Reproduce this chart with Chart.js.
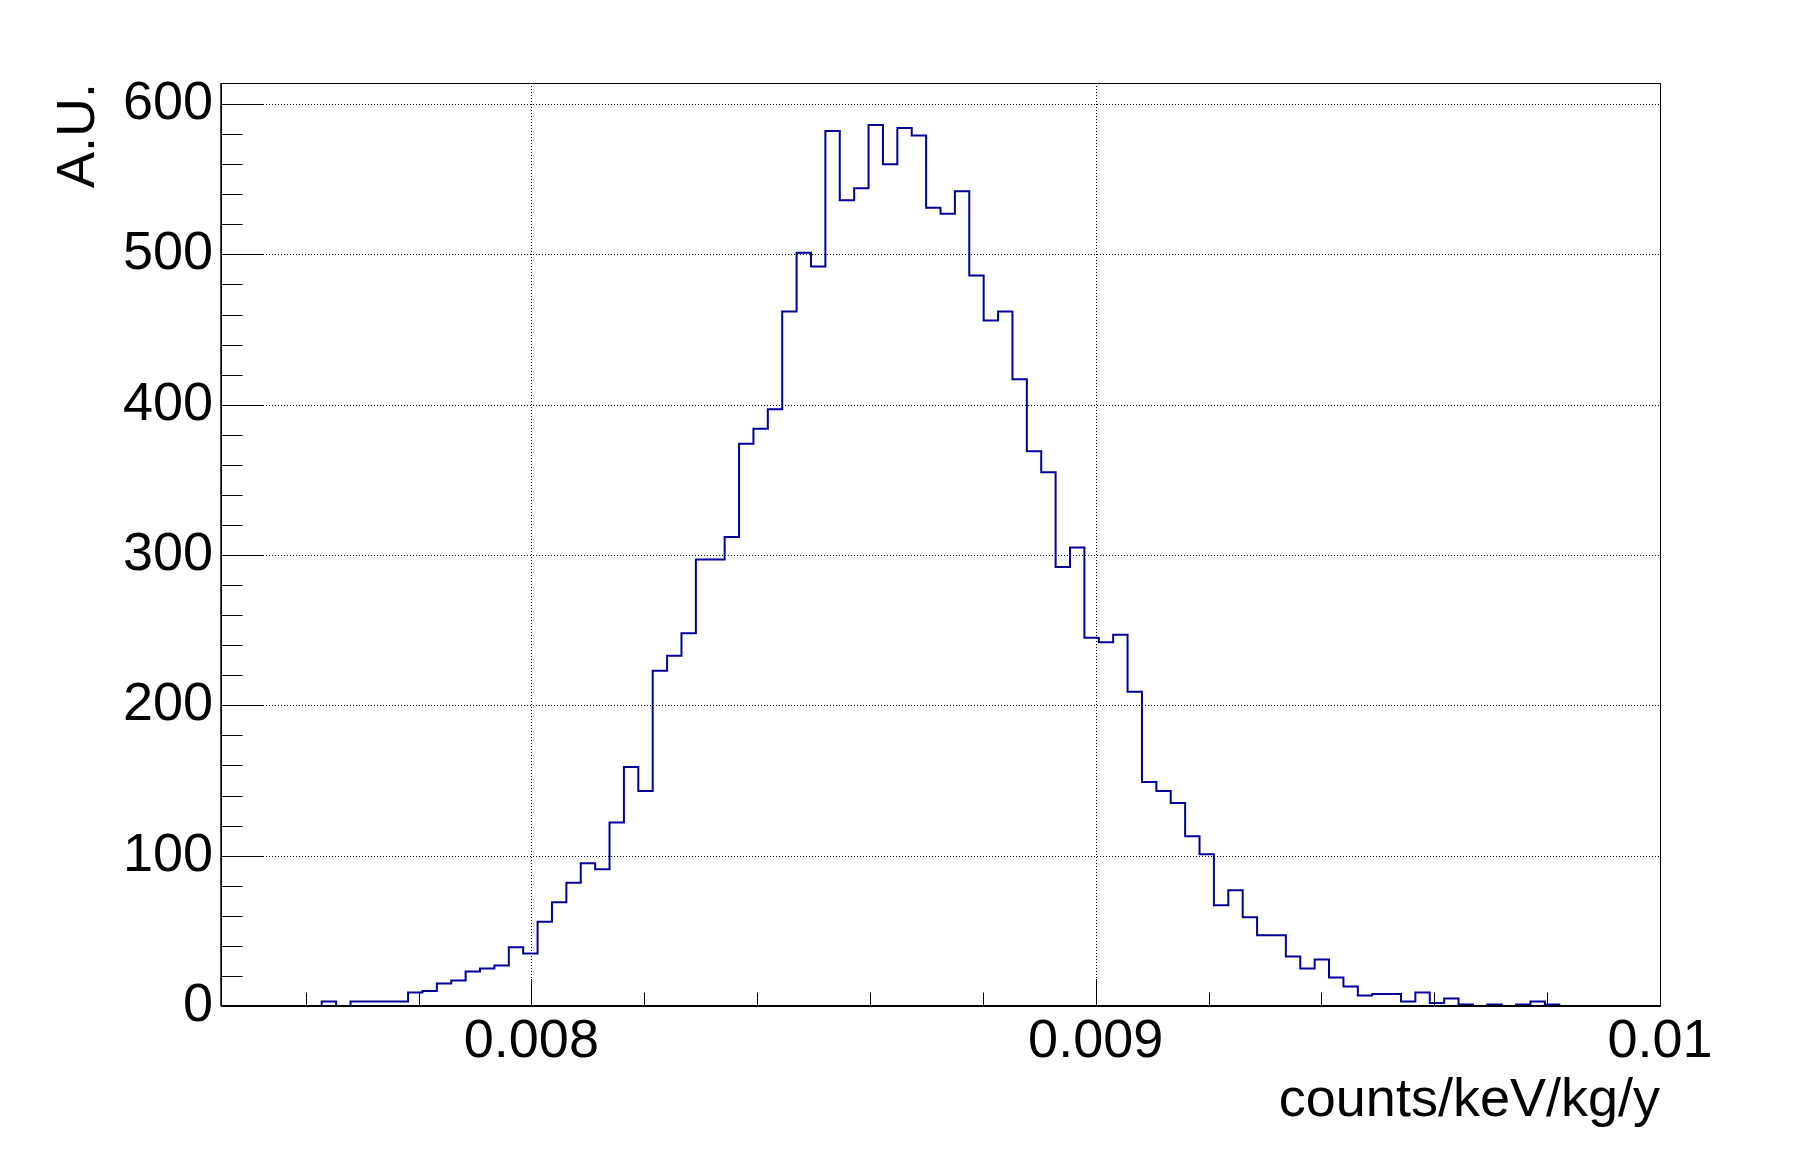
<!DOCTYPE html>
<html>
<head>
<meta charset="utf-8">
<script src="https://cdn.jsdelivr.net/npm/chart.js@4.4.0/dist/chart.umd.min.js"></script>
<style>
  html, body { margin: 0; padding: 0; background: #ffffff; }
  #wrap { width: 1798px; height: 1154px; }
</style>
</head>
<body>
<div id="wrap"><canvas id="c" width="1798" height="1154"></canvas></div>
<script>
// ---- Histogram binning (uniform bins) ----
const xMin = 0.00745;
const xMax = 0.01;
const nBins = 100;

// ---- Bin contents (bin 0 .. bin 99) ----
const counts = [
  0, 0, 0, 0, 0, 0, 0, 3, 0, 3,
  3, 3, 3, 9, 10, 15, 17, 23, 25, 27,
  39, 35, 56, 69, 82, 95, 91, 122, 159, 143,
  223, 233, 248, 297, 297, 312, 374, 384, 397, 462,
  501, 492, 582, 536, 544, 586, 560, 584, 579, 531,
  527, 542, 486, 456, 462, 417, 369, 355, 292, 305,
  245, 242, 247, 209, 149, 143, 135, 113, 101, 67,
  77, 59, 47, 47, 33, 25, 31, 19, 13, 7,
  8, 8, 3, 9, 2, 5, 1, 0, 1, 0,
  1, 3, 1, 0, 0, 0, 0, 0, 0, 0
];

// ---- Axes ----
const xTickValues = [0.008, 0.009, 0.01];
const xTickLabels = ['0.008', '0.009', '0.01'];
const xMinorStep = 0.0002;
const yTickValues = [0, 100, 200, 300, 400, 500, 600];
const yTickLabels = ['0', '100', '200', '300', '400', '500', '600'];
const yMinorStep = 20;
const yMax = 614;
const xTitle = 'counts/keV/kg/y';
const yTitle = 'A.U.';

// ---- Build step points: bin lower edges, then the upper edge of the last bin ----
// With stepped 'before', each point's value is held from that point to the next one.
const binWidth = (xMax - xMin) / nBins;
const points = counts.map((v, i) => ({ x: xMin + i * binWidth, y: v }));
points.push({ x: xMax, y: counts[counts.length - 1] });

const FONT = { family: '"Liberation Sans", Arial, Helvetica, sans-serif', size: 54 };

const rootFrame = {
  id: 'rootFrame',
  beforeDatasetsDraw(chart) {
    const { ctx, chartArea: a, scales: { x, y } } = chart;
    ctx.save();
    ctx.strokeStyle = '#000';
    ctx.lineWidth = 1;
    ctx.setLineDash([1, 2]);
    xTickValues.forEach(v => {
      const px = Math.round(x.getPixelForValue(v)) + 0.5;
      ctx.beginPath(); ctx.moveTo(px, a.top); ctx.lineTo(px, a.bottom); ctx.stroke();
    });
    yTickValues.forEach(v => {
      const py = Math.round(y.getPixelForValue(v)) + 0.5;
      ctx.beginPath(); ctx.moveTo(a.left, py); ctx.lineTo(a.right, py); ctx.stroke();
    });
    ctx.restore();
  },
  afterDatasetsDraw(chart) {
    const { ctx, chartArea: a, scales: { x, y } } = chart;
    ctx.save();
    ctx.setLineDash([]);
    ctx.strokeStyle = '#000';
    ctx.lineWidth = 1;
    ctx.strokeRect(a.left + 0.5, a.top + 0.5, a.right - a.left, a.bottom - a.top);
    ctx.lineWidth = 2;
    ctx.beginPath(); ctx.moveTo(a.left, a.bottom); ctx.lineTo(a.right + 1, a.bottom); ctx.stroke();
    ctx.lineWidth = 1.5;
    ctx.beginPath(); ctx.moveTo(a.left, a.top); ctx.lineTo(a.left, a.bottom); ctx.stroke();
    ctx.lineWidth = 1;
    const yMajLen = 43, yMinLen = 21.5, xMajLen = 27, xMinLen = 13.5;
    for (let k = 0; k * yMinorStep <= yMax; k++) {
      const v = k * yMinorStep;
      const major = yTickValues.includes(v);
      const py = Math.round(y.getPixelForValue(v)) + 0.5;
      ctx.beginPath(); ctx.moveTo(a.left, py); ctx.lineTo(a.left + (major ? yMajLen : yMinLen), py); ctx.stroke();
    }
    const k0 = Math.ceil(xMin / xMinorStep - 1e-9), k1 = Math.floor(xMax / xMinorStep + 1e-9);
    for (let k = k0; k <= k1; k++) {
      const v = k * xMinorStep;
      const major = xTickValues.some(t => Math.abs(t - v) < 1e-9);
      const px = Math.round(x.getPixelForValue(v)) + 0.5;
      ctx.beginPath(); ctx.moveTo(px, a.bottom); ctx.lineTo(px, a.bottom - (major ? xMajLen : xMinLen)); ctx.stroke();
    }
    ctx.restore();
  }
};

new Chart(document.getElementById('c'), {
  type: 'line',
  data: {
    datasets: [{
      data: points,
      stepped: 'before',
      borderColor: '#000099',
      borderWidth: 2,
      pointRadius: 0,
      fill: false,
      tension: 0
    }]
  },
  options: {
    responsive: false,
    animation: false,
    devicePixelRatio: 1,
    layout: { padding: { left: 0, top: 83, right: 138, bottom: 0 } },
    plugins: { legend: { display: false }, tooltip: { enabled: false } },
    scales: {
      x: {
        type: 'linear',
        min: xMin,
        max: xMax,
        afterBuildTicks: (axis) => { axis.ticks = xTickValues.map(v => ({ value: v })); },
        afterFit: (s) => { s.height = 148; },
        grid: { display: false, drawTicks: false },
        border: { display: false },
        ticks: {
          autoSkip: false, maxRotation: 0, minRotation: 0, padding: 4,
          color: '#000', font: FONT,
          callback: (v) => { const i = xTickValues.findIndex(t => Math.abs(t - v) < 1e-9); return i >= 0 ? xTickLabels[i] : ''; }
        },
        title: { display: true, text: xTitle, align: 'end', color: '#000', font: FONT, padding: { top: 0, bottom: 20 } }
      },
      y: {
        type: 'linear',
        min: 0,
        max: yMax,
        afterBuildTicks: (axis) => { axis.ticks = yTickValues.map(v => ({ value: v })); },
        afterFit: (s) => { s.width = 221; },
        grid: { display: false, drawTicks: false },
        border: { display: false },
        ticks: {
          autoSkip: false, padding: 8, color: '#000', font: FONT,
          callback: (v) => { const i = yTickValues.indexOf(v); return i >= 0 ? yTickLabels[i] : ''; }
        },
        title: { display: true, text: yTitle, align: 'end', color: '#000', font: FONT, padding: { top: 47, bottom: 0 } }
      }
    }
  },
  plugins: [rootFrame]
});
</script>
</body>
</html>
